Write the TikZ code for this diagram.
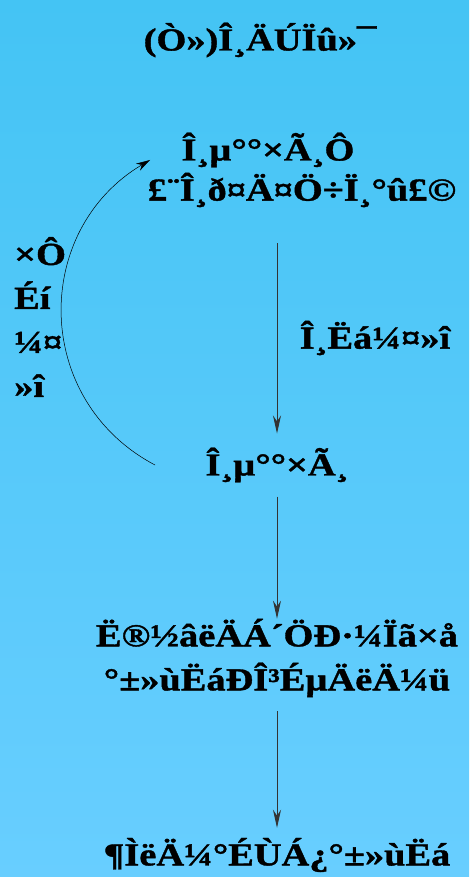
\documentclass[tikz,border=0pt]{standalone}
\usepackage{fontspec}
\newfontfamily\gbfont[FakeStretch=1.2, BoldFeatures={FakeBold=1.2}]{Liberation Serif}
\usepackage{xcolor}
\definecolor{skyTop}    {HTML}{44C4F4}
\definecolor{skyBottom} {HTML}{68CEFF}
\definecolor{lineGray}  {HTML}{333333}
\usetikzlibrary{arrows.meta, positioning}

\begin{document}
\begin{tikzpicture}[x=1pt, y=-1pt,
    every node/.style={font=\gbfont\bfseries\fontsize{32}{44}\selectfont, text=black},
    stage/.style={inner xsep=2pt, inner ysep=14pt, align=center},
    lab/.style={inner sep=0pt, align=left},
    arr/.style={-{Stealth[length=18pt, width=8pt]}, lineGray, line width=0.9pt},
    loop/.style={-{Stealth[length=14pt, width=8pt]}, black, line width=0.5pt}
]
% Background
\shade[top color=skyTop, bottom color=skyBottom] (0,0) rectangle (469,877);
\useasboundingbox (0,0) rectangle (469,877);
% Title
\node[inner sep=0pt] (title) at (260,40) {(Ò»)Î¸ÄÚÏû»¯};
% Stages
\node[inner sep=0pt] (zymogen) at (268,150) {Î¸µ°°×Ã¸Ô};
\node[stage] (source) at (302,190) {£¨Î¸ð¤Ä¤Ö÷Ï¸°û£©};
\node[stage] (pepsin) at (277,465) {Î¸µ°°×Ã¸};
\node[stage] (action) at (277,658) {Ë®½âëÄÁ´ÖÐ·¼Ïã×å\\°±»ùËáÐÎ³ÉµÄëÄ¼ü};
\node[stage] (products) at (277,855) {¶ÌëÄ¼°ÉÙÁ¿°±»ùËá};
% Side labels
\node[lab, anchor=west] (selfAct) at (14,317) {×Ô\\Éí\\¼¤\\»î};
\node[lab] (acidAct) at (375,338) {Î¸Ëá¼¤»î};
% Arrows
\draw[arr, shorten <=22pt] (source.south -| pepsin.north) -- (pepsin.north);
\draw[arr, shorten >=-14pt] (pepsin.south) -- (action.north);
\draw[arr, shorten >=-4pt] (action.south) -- (products.north);
\coordinate (loopStart) at (155,465);
\coordinate (loopEnd) at (150,160);
\draw[loop] (loopStart) .. controls (32,400) and (32,230) .. (loopEnd);
\end{tikzpicture}
\end{document}
